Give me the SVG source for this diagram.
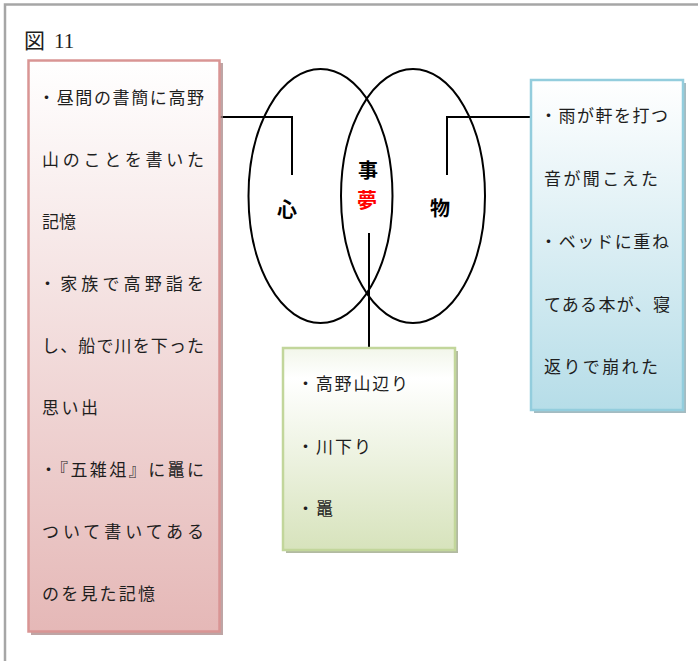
<svg xmlns="http://www.w3.org/2000/svg" width="698" height="661" viewBox="0 0 698 661">
<defs>
<linearGradient id="gPink" x1="0" y1="0" x2="0" y2="1">
<stop offset="0" stop-color="#ffffff"/>
<stop offset="1" stop-color="#e5b8b7"/>
</linearGradient>
<linearGradient id="gBlue" x1="0" y1="0" x2="0" y2="1">
<stop offset="0" stop-color="#ffffff"/>
<stop offset="1" stop-color="#b6dde8"/>
</linearGradient>
<linearGradient id="gGreen" x1="0" y1="0" x2="0" y2="1">
<stop offset="0" stop-color="#f2f6ea"/>
<stop offset="0.15" stop-color="#ffffff"/>
<stop offset="1" stop-color="#d7e3bc"/>
</linearGradient>
</defs>
<style>
.t{font-family:"Noto Sans CJK JP","Noto Sans CJK SC",sans-serif;font-size:17px;fill:#1e1e1e}
.lbl{font-family:"Noto Sans CJK JP","Noto Sans CJK SC",sans-serif;font-size:20px;font-weight:bold;fill:#000;text-anchor:middle}
.conn{fill:none;stroke:#000;stroke-width:2}
.ell{fill:none;stroke:#000;stroke-width:2}
</style>
<rect x="0" y="0" width="698" height="661" fill="#ffffff"/>
<rect x="5" y="4.5" width="800" height="800" fill="#ffffff" stroke="#a6a6a6" stroke-width="2.5"/>
<text x="24" y="48" font-family="'Liberation Serif','Noto Sans CJK JP',serif" font-size="21" fill="#1e1e1e">図 <tspan x="54">11</tspan></text>

<g id="ellipses">
<ellipse class="ell" cx="320.5" cy="196" rx="72" ry="127"/>
<ellipse class="ell" cx="413" cy="196" rx="72" ry="127"/>
</g>

<g id="connectors">
<path class="conn" d="M220,117 H292 V175"/>
<path class="conn" d="M447,175 V117 H531"/>
<path class="conn" d="M369,233 V348"/>
</g>

<g id="labels">
<text class="lbl" x="287" y="216.5">心</text>
<text class="lbl" x="368" y="177.5">事</text>
<text class="lbl" x="367" y="207.5" style="fill:#ff0000">夢</text>
<text class="lbl" x="440" y="215.5">物</text>
</g>

<g id="node-left">
<rect x="31" y="63" width="192" height="572" fill="#a88787" opacity="0.75"/>
<rect x="28.5" y="60.5" width="191" height="571" fill="url(#gPink)" stroke="#d99594" stroke-width="2.5"/>
<text class="t" x="38" y="103.5" textLength="166" lengthAdjust="spacing">・昼間の書簡に高野</text>
<text class="t" x="42" y="165.5" textLength="162" lengthAdjust="spacing">山のことを書いた</text>
<text class="t" x="42" y="227.5">記憶</text>
<text class="t" x="39" y="289.5" textLength="165" lengthAdjust="spacing">・家族で高野詣を</text>
<text class="t" x="42" y="351.5" textLength="162" lengthAdjust="spacing">し、船で川を下った</text>
<text class="t" x="42" y="413.5" letter-spacing="2.5">思い出</text>
<text class="t" x="40" y="475.5" textLength="164" lengthAdjust="spacing">・『五雑俎』に鼉に</text>
<text class="t" x="42" y="537.5" textLength="162" lengthAdjust="spacing">ついて書いてある</text>
<text class="t" x="42" y="599.5" letter-spacing="2.2">のを見た記憶</text>
</g>

<g id="node-right">
<rect x="534" y="83" width="152" height="330" fill="#86a4ac" opacity="0.75"/>
<rect x="531" y="80" width="152" height="330" fill="url(#gBlue)" stroke="#93cddd" stroke-width="2.5"/>
<text class="t" x="540" y="121.5" textLength="128" lengthAdjust="spacing">・雨が軒を打つ</text>
<text class="t" x="544" y="184.5" textLength="114" lengthAdjust="spacing">音が聞こえた</text>
<text class="t" x="540" y="247.5" textLength="129" lengthAdjust="spacing">・ベッドに重ね</text>
<text class="t" x="544" y="310.5" textLength="126" lengthAdjust="spacing">てある本が、寝</text>
<text class="t" x="544" y="372.5" textLength="114" lengthAdjust="spacing">返りで崩れた</text>
</g>

<g id="node-bottom">
<rect x="286" y="351" width="172" height="202" fill="#98a383" opacity="0.75"/>
<rect x="283" y="348" width="172" height="202" fill="url(#gGreen)" stroke="#c2d69b" stroke-width="2.5"/>
<text class="t" x="297" y="389.5" textLength="111" lengthAdjust="spacing">・高野山辺り</text>
<text class="t" x="297" y="452.5" letter-spacing="2">・川下り</text>
<text class="t" x="297" y="514.5" letter-spacing="2">・鼉</text>
</g>
</svg>
